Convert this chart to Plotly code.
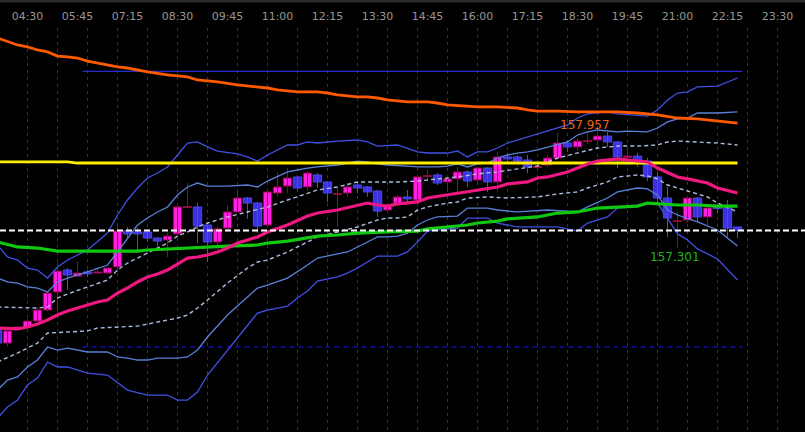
import plotly.graph_objects as go

# 15 minute candles, x = candle index (index 0 is the first full candle on the left)
candle_x = list(range(-1, 74))
open_ = [156.841, 156.768, 156.847, 156.858, 156.891, 156.953, 157.054, 157.177, 157.143, 157.166,
         157.160, 157.160, 157.194, 157.395, 157.390, 157.390, 157.356, 157.345, 157.379, 157.527,
         157.530, 157.429, 157.334, 157.412, 157.502, 157.580, 157.552, 157.429, 157.608, 157.647,
         157.698, 157.642, 157.709, 157.670, 157.600, 157.608, 157.653, 157.642, 157.619, 157.513,
         157.552, 157.586, 157.569, 157.701, 157.709, 157.670, 157.687, 157.726, 157.681, 157.748,
         157.670, 157.810, 157.810, 157.793, 157.751, 157.765, 157.804, 157.888, 157.866, 157.897,
         157.905, 157.927, 157.894, 157.807, 157.815, 157.787, 157.698, 157.580, 157.449, 157.457,
         157.580, 157.474, 157.530, 157.524, 157.418]
high = [156.852, 156.858, 156.863, 156.903, 156.964, 157.059, 157.216, 157.188, 157.222, 157.177,
        157.194, 157.194, 157.440, 157.418, 157.412, 157.395, 157.362, 157.384, 157.552, 157.664,
        157.552, 157.446, 157.418, 157.541, 157.614, 157.586, 157.558, 157.625, 157.726, 157.748,
        157.703, 157.726, 157.720, 157.675, 157.636, 157.664, 157.670, 157.647, 157.625, 157.552,
        157.597, 157.625, 157.709, 157.737, 157.720, 157.698, 157.754, 157.737, 157.754, 157.754,
        157.838, 157.832, 157.821, 157.821, 157.793, 157.821, 157.944, 157.905, 157.916, 157.944,
        157.957, 157.950, 157.899, 157.860, 157.832, 157.804, 157.726, 157.642, 157.502, 157.591,
        157.586, 157.530, 157.535, 157.569, 157.418]
low = [156.757, 156.751, 156.841, 156.852, 156.886, 156.947, 156.914, 157.065, 157.138, 157.138,
       157.155, 157.155, 157.166, 157.356, 157.289, 157.334, 157.311, 157.250, 157.362, 157.524,
       157.328, 157.222, 157.278, 157.390, 157.496, 157.463, 157.384, 157.418, 157.586, 157.608,
       157.619, 157.619, 157.636, 157.558, 157.418, 157.586, 157.608, 157.586, 157.474, 157.496,
       157.541, 157.558, 157.563, 157.681, 157.653, 157.614, 157.614, 157.642, 157.664, 157.614,
       157.614, 157.776, 157.782, 157.720, 157.737, 157.754, 157.793, 157.838, 157.843, 157.883,
       157.866, 157.866, 157.748, 157.765, 157.754, 157.675, 157.541, 157.362, 157.301, 157.446,
       157.446, 157.418, 157.496, 157.362, 157.356]
close = [156.768, 156.836, 156.858, 156.891, 156.953, 157.048, 157.171, 157.149, 157.160, 157.155,
         157.166, 157.188, 157.395, 157.379, 157.379, 157.356, 157.339, 157.367, 157.530, 157.533,
         157.423, 157.334, 157.407, 157.502, 157.580, 157.552, 157.423, 157.614, 157.642, 157.692,
         157.636, 157.720, 157.670, 157.608, 157.605, 157.642, 157.636, 157.614, 157.507, 157.535,
         157.586, 157.575, 157.698, 157.706, 157.664, 157.687, 157.726, 157.675, 157.748, 157.670,
         157.810, 157.799, 157.787, 157.754, 157.757, 157.804, 157.888, 157.866, 157.899, 157.902,
         157.927, 157.894, 157.810, 157.815, 157.787, 157.698, 157.580, 157.468, 157.454, 157.580,
         157.474, 157.524, 157.521, 157.412, 157.398]

tick_pos = [2, 7, 12, 17, 22, 27, 32, 37, 42, 47, 52, 57, 62, 67, 72, 77]
tick_text = ["04:30", "05:45", "07:15", "08:30", "09:45", "11:00", "12:15", "13:30",
             "14:45", "16:00", "17:15", "18:30", "19:45", "21:00", "22:15", "23:30"]

# moving averages
orange_x = [-1, 1, 2, 3, 4, 5, 6, 7, 8, 9, 10, 11, 12, 14, 16, 18, 19, 21, 23, 25, 26, 27, 29, 31, 32,
            33, 35, 36, 37, 38, 40, 42, 43, 44, 46, 47, 49, 51, 52, 53, 55, 57, 61, 63, 65, 67, 69, 71, 73]
orange_y = [158.476, 158.437, 158.426, 158.409, 158.398, 158.375, 158.370, 158.364, 158.347, 158.336,
            158.325, 158.314, 158.308, 158.286, 158.269, 158.258, 158.241, 158.230, 158.213, 158.202,
            158.196, 158.185, 158.174, 158.174, 158.168, 158.157, 158.146, 158.146, 158.140, 158.129,
            158.118, 158.118, 158.112, 158.101, 158.095, 158.090, 158.090, 158.084, 158.073, 158.067,
            158.067, 158.062, 158.062, 158.056, 158.045, 158.028, 158.023, 158.011, 158.000]
yellow_x = [-1, 6, 7, 73]
yellow_y = [157.782, 157.782, 157.776, 157.776]
pink_x = [-1, 1, 2, 3, 4, 5, 6, 7, 8, 9, 10, 11, 12, 13, 14, 15, 16, 17, 18, 19, 20, 21, 22, 23, 24,
          25, 26, 28, 30, 31, 33, 35, 36, 37, 38, 39, 41, 42, 44, 45, 47, 49, 50, 52, 53, 54, 56, 57,
          58, 59, 61, 62, 64, 65, 67, 68, 70, 71, 73]
pink_y = [156.852, 156.847, 156.858, 156.875, 156.897, 156.925, 156.947, 156.964, 156.981, 156.998,
          157.009, 157.048, 157.076, 157.110, 157.138, 157.155, 157.177, 157.211, 157.244, 157.250,
          157.261, 157.278, 157.300, 157.328, 157.345, 157.362, 157.390, 157.429, 157.479, 157.496,
          157.513, 157.541, 157.552, 157.541, 157.535, 157.547, 157.558, 157.580, 157.597, 157.608,
          157.625, 157.642, 157.659, 157.670, 157.692, 157.698, 157.726, 157.748, 157.771, 157.787,
          157.799, 157.793, 157.782, 157.748, 157.698, 157.687, 157.664, 157.636, 157.608]
green_x = [-1, 1, 3, 5, 8, 13, 14, 16, 17, 19, 22, 25, 26, 28, 30, 31, 33, 34, 35, 38, 41, 42, 44,
           45, 46, 47, 49, 50, 51, 53, 55, 57, 59, 61, 63, 64, 66, 67, 69, 71, 73]
green_y = [157.334, 157.306, 157.300, 157.283, 157.283, 157.283, 157.289, 157.295, 157.300, 157.306,
           157.311, 157.317, 157.328, 157.339, 157.356, 157.367, 157.373, 157.379, 157.384, 157.390,
           157.395, 157.407, 157.418, 157.423, 157.429, 157.440, 157.451, 157.463, 157.468, 157.474,
           157.496, 157.502, 157.524, 157.530, 157.535, 157.552, 157.547, 157.541, 157.541, 157.535,
           157.535]

# bands round the pink average
royal_up_x = [-1, 0, 1, 2, 3, 4, 5, 6, 8, 9, 10, 11, 12, 13, 14, 15, 16, 17, 18, 19, 20, 21, 23, 24,
              25, 26, 28, 29, 30, 31, 33, 35, 36, 37, 39, 41, 42, 44, 45, 46, 47, 48, 49, 50, 51, 52,
              53, 55, 56, 57, 58, 60, 61, 64, 65, 66, 67, 68, 69, 71, 72, 73]
royal_up_y = [157.317, 157.250, 157.233, 157.188, 157.177, 157.132, 157.194, 157.233, 157.289, 157.334,
              157.384, 157.485, 157.569, 157.636, 157.692, 157.720, 157.754, 157.821, 157.888, 157.894,
              157.866, 157.843, 157.827, 157.810, 157.787, 157.821, 157.877, 157.877, 157.894, 157.888,
              157.899, 157.905, 157.894, 157.871, 157.877, 157.838, 157.832, 157.832, 157.843, 157.810,
              157.838, 157.838, 157.860, 157.888, 157.905, 157.922, 157.939, 157.972, 157.989, 158.028,
              158.051, 158.062, 158.051, 158.039, 158.073, 158.129, 158.168, 158.174, 158.202, 158.207,
              158.230, 158.252]
steel_up_x = [-1, 0, 1, 2, 3, 4, 5, 6, 8, 10, 11, 12, 13, 14, 15, 16, 17, 18, 19, 20, 22, 24, 25, 26,
              28, 29, 30, 31, 33, 35, 36, 37, 38, 40, 41, 42, 43, 44, 45, 46, 47, 48, 49, 50, 51, 52,
              53, 56, 57, 58, 59, 61, 62, 64, 65, 66, 67, 68, 69, 71, 73]
steel_up_y = [157.132, 157.110, 157.104, 157.082, 157.076, 157.054, 157.110, 157.132, 157.166, 157.205,
              157.278, 157.356, 157.429, 157.468, 157.502, 157.530, 157.597, 157.642, 157.664, 157.647,
              157.647, 157.653, 157.642, 157.675, 157.726, 157.737, 157.748, 157.754, 157.765, 157.787,
              157.782, 157.771, 157.765, 157.759, 157.754, 157.754, 157.754, 157.759, 157.771, 157.754,
              157.771, 157.776, 157.804, 157.821, 157.832, 157.838, 157.849, 157.894, 157.933, 157.950,
              157.961, 157.950, 157.955, 157.950, 157.972, 158.006, 158.023, 158.028, 158.056, 158.056,
              158.062]
dash_up_x = [-1, 3, 4, 5, 6, 8, 10, 11, 12, 13, 14, 15, 16, 17, 18, 19, 20, 22, 24, 26, 28, 30, 31,
             33, 35, 37, 39, 41, 43, 45, 47, 49, 51, 53, 55, 57, 59, 61, 63, 65, 66, 67, 69, 71, 73]
dash_up_y = [156.970, 156.964, 156.970, 157.020, 157.043, 157.082, 157.121, 157.177, 157.216, 157.244,
             157.272, 157.300, 157.328, 157.367, 157.390, 157.418, 157.440, 157.474, 157.502, 157.530,
             157.569, 157.608, 157.625, 157.642, 157.670, 157.670, 157.670, 157.675, 157.687, 157.698,
             157.715, 157.726, 157.743, 157.759, 157.804, 157.832, 157.860, 157.871, 157.871, 157.877,
             157.894, 157.899, 157.894, 157.888, 157.877]
dash_lo_x = [-1, 1, 3, 4, 8, 9, 13, 14, 17, 18, 19, 20, 22, 24, 25, 26, 28, 30, 31, 33, 35, 37, 38,
             39, 40, 41, 42, 44, 45, 46, 48, 50, 53, 55, 57, 58, 60, 61, 63, 64, 65, 66, 68, 70, 71, 73]
dash_lo_y = [156.662, 156.712, 156.768, 156.824, 156.836, 156.852, 156.863, 156.875, 156.908, 156.925,
             156.964, 157.009, 157.104, 157.188, 157.222, 157.233, 157.278, 157.334, 157.362, 157.390,
             157.418, 157.457, 157.468, 157.468, 157.474, 157.513, 157.530, 157.552, 157.558, 157.580,
             157.586, 157.580, 157.586, 157.603, 157.614, 157.636, 157.670, 157.698, 157.709, 157.703,
             157.687, 157.653, 157.619, 157.586, 157.552, 157.502]
steel_lo_x = [-1, 0, 1, 2, 3, 4, 5, 6, 8, 10, 11, 12, 13, 14, 15, 17, 18, 19, 20, 22, 24, 25, 26, 28,
              30, 31, 33, 34, 36, 37, 38, 39, 40, 41, 42, 43, 45, 46, 48, 49, 51, 53, 54, 57, 58, 60,
              61, 63, 64, 65, 66, 67, 69, 71, 73]
steel_lo_y = [156.505, 156.561, 156.578, 156.634, 156.673, 156.746, 156.729, 156.740, 156.718, 156.718,
              156.690, 156.684, 156.673, 156.673, 156.684, 156.684, 156.690, 156.729, 156.802, 156.925,
              157.026, 157.076, 157.093, 157.132, 157.205, 157.244, 157.267, 157.278, 157.334, 157.362,
              157.362, 157.367, 157.384, 157.429, 157.457, 157.474, 157.479, 157.524, 157.524, 157.513,
              157.502, 157.507, 157.513, 157.502, 157.530, 157.580, 157.614, 157.636, 157.631, 157.597,
              157.513, 157.485, 157.446, 157.401, 157.311]
royal_lo_x = [-1, 0, 1, 2, 3, 4, 5, 6, 8, 10, 12, 14, 16, 17, 18, 19, 20, 22, 24, 25, 26, 27, 28, 29,
              30, 31, 33, 34, 35, 36, 37, 39, 40, 41, 42, 45, 46, 48, 49, 51, 53, 55, 57, 58, 60, 61,
              63, 65, 66, 67, 68, 69, 71, 73]
royal_lo_y = [156.348, 156.410, 156.449, 156.533, 156.572, 156.662, 156.634, 156.634, 156.600, 156.589,
              156.505, 156.477, 156.477, 156.449, 156.449, 156.494, 156.589, 156.729, 156.869, 156.936,
              156.953, 156.964, 156.975, 157.020, 157.059, 157.115, 157.138, 157.160, 157.188, 157.222,
              157.255, 157.255, 157.278, 157.334, 157.395, 157.412, 157.468, 157.468, 157.440, 157.418,
              157.418, 157.418, 157.395, 157.440, 157.474, 157.524, 157.541, 157.552, 157.468, 157.379,
              157.345, 157.295, 157.239, 157.121]

# levels
level_x = [7.5, 73.5]
top_level = 158.289
bottom_level = 156.747
last_price = 157.398
day_high = 157.957
day_low = 157.301

UP_FILL, UP_LINE = "#ff20e0", "#8c0a3c"
DN_FILL, DN_LINE = "#3d30e0", "#4848e8"

fig = go.Figure()

# candles: wicks first, then bodies as bars so the body width can be set
for is_up, fill, edge in [(True, UP_FILL, UP_LINE), (False, DN_FILL, DN_LINE)]:
    idx = [k for k in range(len(candle_x)) if (close[k] >= open_[k]) == is_up]
    wx, wy = [], []
    for k in idx:
        wx += [candle_x[k], candle_x[k], None]
        wy += [low[k], high[k], None]
    fig.add_trace(go.Scatter(x=wx, y=wy, mode="lines", line=dict(color=edge, width=1),
                             showlegend=False, hoverinfo="skip"))
    fig.add_trace(go.Bar(
        x=[candle_x[k] for k in idx],
        base=[min(open_[k], close[k]) for k in idx],
        y=[abs(close[k] - open_[k]) for k in idx],
        width=0.84, marker=dict(color=fill, line=dict(color=edge, width=1)),
        showlegend=False, hoverinfo="skip",
    ))

def add_line(xs, ys, color, width, dash="solid"):
    fig.add_trace(go.Scatter(
        x=xs, y=ys, mode="lines", showlegend=False, hoverinfo="skip",
        line=dict(color=color, width=width, dash=dash),
    ))

add_line(level_x, [top_level, top_level], "#2a2ac8", 1.2)
add_line(level_x, [bottom_level, bottom_level], "#1010d8", 1.2, "5px,4px")
add_line(royal_up_x, royal_up_y, "#4050e4", 1.3)
add_line(royal_lo_x, royal_lo_y, "#4050e4", 1.3)
add_line(steel_up_x, steel_up_y, "#5a80d8", 1.3)
add_line(steel_lo_x, steel_lo_y, "#5a80d8", 1.3)
add_line(dash_up_x, dash_up_y, "#a8bce0", 1.4, "4px,3px")
add_line(dash_lo_x, dash_lo_y, "#a8bce0", 1.4, "4px,3px")
add_line(orange_x, orange_y, "#ff5a00", 2.8)
add_line(yellow_x, yellow_y, "#ffee00", 2.8)
add_line(green_x, green_y, "#10c810", 3.2)
add_line(pink_x, pink_y, "#ee1880", 3.2)

# last price line across the whole chart
fig.add_shape(type="line", xref="paper", x0=0, x1=1, yref="y", y0=last_price, y1=last_price,
              line=dict(color="#ffffff", width=2, dash="6px,3px"), layer="above")
# thin strip at the very top of the window
fig.add_shape(type="rect", xref="paper", x0=0, x1=1, yref="paper", y0=1.0631, y1=1.08,
              fillcolor="#2a2a2a", line=dict(width=0), layer="below")

fig.add_annotation(x=57.75, y=157.989, text=f"{day_high:.3f}", showarrow=False,
                   font=dict(family="DejaVu Sans", size=12, color="#e8661e"))
fig.add_annotation(x=66.75, y=157.250, text=f"{day_low:.3f}", showarrow=False,
                   font=dict(family="DejaVu Sans", size=12, color="#1db31d"))

fig.update_layout(
    width=805, height=432,
    margin=dict(l=0, r=0, t=28, b=0),
    paper_bgcolor="#000000", plot_bgcolor="#000000",
    barmode="overlay",
    font=dict(family="DejaVu Sans", color="#8c8c8c", size=11),
    xaxis=dict(
        range=[-0.75, 79.75], side="top", tickmode="array",
        tickvals=tick_pos, ticktext=tick_text, ticks="", showgrid=False,
        zeroline=False, showline=False,
        tickfont=dict(family="DejaVu Sans", size=11, color="#969696"),
        ticklabelstandoff=5,
        minor=dict(tickmode="linear", tick0=2, dtick=3, showgrid=True,
                   gridcolor="#363636", gridwidth=1, griddash="3px,4px", ticks=""),
    ),
    yaxis=dict(range=[156.270, 158.532], showgrid=False, zeroline=False,
               showticklabels=False, showline=False),
)

fig.write_html("out.html", config={"displayModeBar": False},
               post_script="document.body.style.margin='0';document.body.style.overflow='hidden';")
